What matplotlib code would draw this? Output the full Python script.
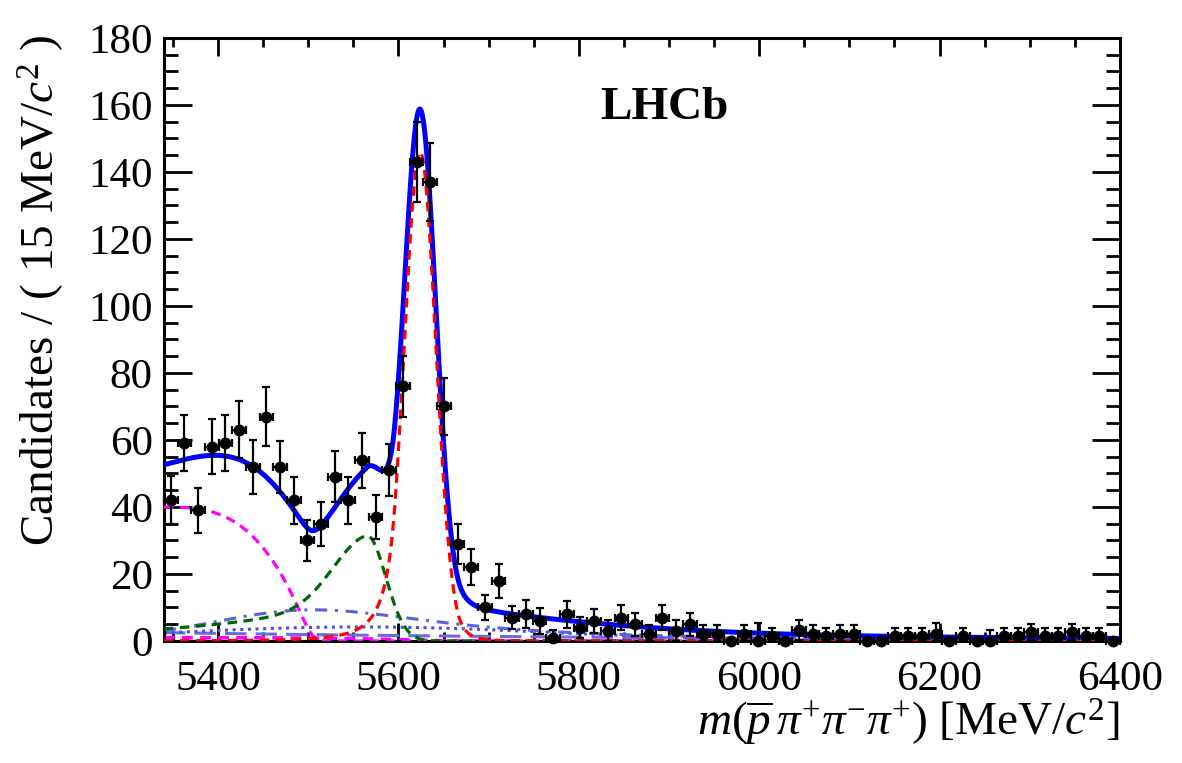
import numpy as np
import matplotlib
matplotlib.use("Agg")
import matplotlib.pyplot as plt
from matplotlib.ticker import MultipleLocator

# ---------------- data ----------------
x_lo, x_hi, n_bins = 5340.0, 6400.0, 70
counts = [42, 59, 39, 58, 59, 63, 52, 67, 52, 42,
          30, 35, 49, 42, 54, 37, 51, 76, 143, 137,
          70, 29, 22, 10, 18, 7, 8, 6, 1, 8,
          4, 6, 3, 7, 5, 2, 7, 3, 5, 2,
          2, 0, 2, 0, 1.6, 0, 3.3, 2, 1.6, 2,
          2, 0, 0, 1.6, 1.6, 1.6, 2, 0, 1.6, 0,
          0, 1.6, 1.6, 2.6, 1.6, 1.6, 2.6, 1.6, 1.6, 0]
err_up = [7.2, 8.4, 6.8, 8.2, 8.4, 8.5, 8.1, 8.8, 7.8, 7.1,
          6.1, 6.6, 7.6, 7.1, 8.2, 6.7, 7.8, 9.0, 12.0, 11.7,
          8.5, 6.0, 5.4, 3.7, 5.1, 3.5, 4.1, 3.8, 2.2, 4.0,
          3.1, 3.7, 3.2, 3.8, 3.5, 2.8, 3.8, 3.2, 3.5, 2.8,
          2.8, 0, 2.7, 5.4, 2.2, 0, 3.0, 2.7, 2.2, 2.7,
          2.7, 0, 0, 2.2, 2.2, 2.2, 3.5, 0, 2.2, 0,
          3.2, 2.2, 2.2, 2.4, 2.2, 2.2, 2.4, 2.2, 2.2, 0]

# fit-component shape parameters
sig_par = dict(amp=146.0, mu=5624.0, sigma=17.5, aL=1.6, nL=3.0, aR=2.3, nR=5.0)
misid_par = dict(amp=31.5, mu=5565.0, sigR=21.0, sigL=38.0, fcore=0.6, tail=180.0)
partreco_par = dict(amp=40.0, start=5340.0, end=5504.0, res=7.0)
partreco2_par = dict(amp=1.0, start=5340.0, end=5650.0, res=10.0)
dashdot_par = dict(amp=9.3, mu=5505.0, sigL=110.0, gamR=175.0)
dotted_par = dict(amp=4.2, mu=5560.0, sigma=210.0)
longdash_par = dict(amp=2.5, start=5340.0, tau=600.0)

x_ticks = [5400, 5600, 5800, 6000, 6200, 6400]
y_ticks = [0, 20, 40, 60, 80, 100, 120, 140, 160, 180]

# ---------------- model shapes ----------------
xs = np.linspace(x_lo, x_hi, 2121)
dx = xs[1] - xs[0]

def dscb(x, amp, mu, sigma, aL, nL, aR, nR):
    t = (x - mu) / sigma
    out = np.exp(-0.5 * t**2)
    AL = (nL / aL) ** nL * np.exp(-0.5 * aL**2); BL = nL / aL - aL
    AR = (nR / aR) ** nR * np.exp(-0.5 * aR**2); BR = nR / aR - aR
    m = t < -aL
    out[m] = AL * (BL - t[m]) ** (-nL)
    m = t > aR
    out[m] = AR * (BR + t[m]) ** (-nR)
    return amp * out

def misid(x, amp, mu, sigR, sigL, fcore, tail):
    d = x - mu
    right = np.exp(-0.5 * (d / sigR) ** 2)
    left = fcore * np.exp(-0.5 * (d / sigL) ** 2) + (1 - fcore) * np.exp(-np.abs(d) / tail)
    return amp * np.where(d >= 0, right, left)

def partreco(x, amp, start, end, res):
    u = np.clip((x - start) / (end - start), 0, 1)
    raw = amp * (1 - u**3)
    k = np.arange(-int(4 * res / dx), int(4 * res / dx) + 1) * dx
    ker = np.exp(-0.5 * (k / res) ** 2)
    ker /= ker.sum()
    n = len(k) // 2
    padded = np.pad(raw, n, mode="edge")
    return np.convolve(padded, ker, mode="valid")

def dashdot(x, amp, mu, sigL, gamR):
    d = x - mu
    return amp * np.where(d < 0, np.exp(-0.5 * (d / sigL) ** 2), 1 / (1 + (d / gamR) ** 2))

def gaus(x, amp, mu, sigma):
    return amp * np.exp(-0.5 * ((x - mu) / sigma) ** 2)

def expo(x, amp, start, tau):
    return amp * np.exp(-(x - start) / tau)

c_sig = dscb(xs, **sig_par)
c_mis = misid(xs, **misid_par)
c_pr = partreco(xs, **partreco_par)
c_pr2 = partreco(xs, **partreco2_par)
c_dd = dashdot(xs, **dashdot_par)
c_dot = gaus(xs, **dotted_par)
c_ld = expo(xs, **longdash_par)
c_tot = c_sig + c_mis + c_pr + c_pr2 + c_dd + c_dot + c_ld

# ---------------- style ----------------
plt.rcParams.update({
    "font.family": ["Liberation Serif", "DejaVu Serif"],
    "mathtext.fontset": "custom",
    "mathtext.rm": "Liberation Serif",
    "mathtext.it": "Liberation Serif:italic",
    "mathtext.bf": "Liberation Serif:bold",
})

fig = plt.figure(figsize=(11.82, 7.63), dpi=100)
ax = fig.add_axes([0.1387, 0.1599, 0.9475 - 0.1387, 0.9502 - 0.1599])

edges = np.linspace(x_lo, x_hi, n_bins + 1)
centers = 0.5 * (edges[:-1] + edges[1:])
half = 0.5 * (edges[1:] - edges[:-1])
counts_a = np.array(counts, dtype=float)
eu = np.array(err_up, dtype=float)
el = np.minimum(eu, counts_a)

# components
ax.plot(xs, c_tot, color="#0000ff", lw=3.6, zorder=3)
ax.plot(xs, c_ld, color="#6a6ad8", lw=2.2, ls=(0, (7, 3)), zorder=2)
ax.plot(xs, c_dot, color="#4a4aee", lw=2.2, ls=(0, (1, 1.5)), zorder=2)
ax.plot(xs, c_dd, color="#6060dd", lw=2.2, ls=(0, (4, 2.5, 1, 2.5)), zorder=2)
ax.plot(xs, c_pr2, color="#ff00ff", lw=2.6, ls=(0, (3, 2)), zorder=2)
ax.plot(xs, c_pr, color="#ff00ff", lw=2.3, ls=(0, (3, 2)), zorder=4)
ax.plot(xs, c_mis, color="#006600", lw=2.3, ls=(0, (3, 2)), zorder=4)
ax.plot(xs, c_sig, color="#ff0000", lw=2.3, ls=(0, (3, 2)), zorder=4)

# data
eb = ax.errorbar(centers, counts_a, yerr=[el, eu], xerr=half, fmt="o", color="black",
                 ms=7.5, elinewidth=1.6, capsize=3.2, capthick=1.6, zorder=5)
for art in eb.get_children():
    art.set_clip_on(False)

ax.set_xlim(x_lo, x_hi)
ax.set_ylim(0, 180)
ax.set_xticks(x_ticks)
ax.set_yticks(y_ticks)
ax.xaxis.set_minor_locator(MultipleLocator(50))
ax.yaxis.set_minor_locator(MultipleLocator(5))
ax.tick_params(which="both", direction="in", top=True, right=True, width=2.0,
               labelsize=31)
ax.tick_params(axis="x", which="major", length=13, pad=14)
ax.tick_params(axis="x", which="minor", length=6.5)
ax.tick_params(axis="y", which="major", length=20, pad=8)
ax.tick_params(axis="y", which="minor", length=10)
for sp in ax.spines.values():
    sp.set_linewidth(2.2)

ax.text(0.523, 0.884, "LHCb", transform=ax.transAxes, fontsize=34,
        fontweight="bold", ha="center", va="center")

fig.text(0.034, 0.955, r"Candidates / ( 15 MeV/$c^2$ )", rotation=90,
         fontsize=34, ha="center", va="top")
fig.text(0.9475, 0.054, r"$m(\overline{p}\,\pi^{+}\pi^{-}\pi^{+})$ [MeV/$c^{2}$]",
         fontsize=34, ha="right", va="center")

fig.savefig("out.png", dpi=100)
